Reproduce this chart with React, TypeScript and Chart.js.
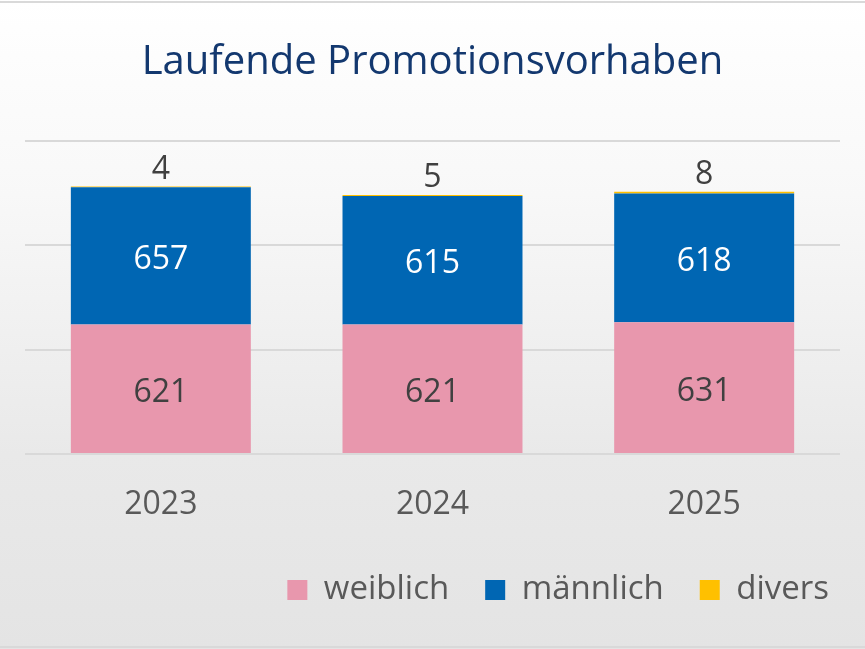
import React, { useEffect, useRef } from "react";
import { Chart, registerables } from "chart.js";

Chart.register(...registerables);

const categories = ["2023", "2024", "2025"];
const weiblich = [621, 621, 631];
const maennlich = [657, 615, 618];
const divers = [4, 5, 8];
const seriesNames = ["weiblich", "männlich", "divers"];
const yTicks = [0, 500, 1000, 1500];

const FONT = '"Open Sans", "Noto Sans", sans-serif';

const valueLabels = {
  id: "valueLabels",
  afterDatasetsDraw(chart: any) {
    const ctx = chart.ctx;
    ctx.save();
    ctx.font = `32px ${FONT}`;
    ctx.textAlign = "center";
    ctx.textBaseline = "middle";
    chart.data.datasets.forEach((ds: any, i: number) => {
      const meta = chart.getDatasetMeta(i);
      meta.data.forEach((bar: any, j: number) => {
        const v = ds.data[j];
        const p = bar.getProps(["x", "y", "base"], true);
        if (i === 2) {
          ctx.fillStyle = "#404040";
          ctx.fillText(String(v), p.x, p.y - 17);
        } else {
          ctx.fillStyle = i === 0 ? "#404040" : "#ffffff";
          ctx.fillText(String(v), p.x, (p.y + p.base) / 2 + 4);
        }
      });
    });
    ctx.restore();
  },
};

export default function App() {
  const ref = useRef<HTMLCanvasElement>(null);

  useEffect(() => {
    document.body.style.margin = "0";
    const chart = new Chart(ref.current!, {
      type: "bar",
      data: {
        labels: categories,
        datasets: [
          { label: seriesNames[0], data: weiblich, backgroundColor: "#E897AD", borderWidth: 0 },
          { label: seriesNames[1], data: maennlich, backgroundColor: "#0066B3", borderWidth: 0 },
          { label: seriesNames[2], data: divers, backgroundColor: "#FFC000", borderWidth: 0 },
        ],
      },
      options: {
        responsive: false,
        animation: false,
        layout: { padding: { top: 0, left: 0, right: 0, bottom: 32.5 } },
        datasets: { bar: { categoryPercentage: 1, barPercentage: 0.6625 } },
        scales: {
          x: {
            stacked: true,
            grid: { display: false },
            border: { display: false },
            ticks: { color: "#595959", font: { family: FONT, size: 32 }, padding: 24 },
            afterFit: (s: any) => { s.height = 83.5; },
          },
          y: {
            stacked: true,
            min: yTicks[0],
            max: yTicks[yTicks.length - 1],
            afterBuildTicks: (s: any) => { s.ticks = yTicks.map((v) => ({ value: v })); },
            grid: { color: "#d9d9d9", lineWidth: 2, drawTicks: false },
            border: { display: false },
            ticks: { display: false },
            afterFit: (s: any) => { s.width = 25; },
          },
          y2: {
            position: "right",
            display: true,
            grid: { display: false },
            border: { display: false },
            ticks: { display: false },
            afterFit: (s: any) => { s.width = 25; },
          },
        },
        plugins: {
          title: {
            display: true,
            text: "Laufende Promotionsvorhaben",
            color: "#13386F",
            font: { family: FONT, size: 40, weight: "normal" },
            padding: { top: 39, bottom: 54 },
          },
          legend: {
            position: "bottom",
            align: "end",
            labels: {
              boxWidth: 20,
              boxHeight: 20,
              padding: 36,
              color: "#595959",
              font: { family: FONT, size: 33 },
            },
          },
          tooltip: { enabled: false },
        },
      },
      plugins: [valueLabels],
    } as any);
    return () => chart.destroy();
  }, []);

  return (
    <div
      style={{
        position: "fixed",
        left: 0,
        top: 0,
        width: 865,
        height: 649,
        background: "linear-gradient(to bottom, #ffffff 0%, #f8f8f8 30%, #e9e9e9 70%, #e4e4e4 100%)",
        overflow: "hidden",
      }}
    >
      <div style={{ position: "absolute", left: 0, top: 1, width: 865, height: 2, background: "#d9d9d9" }} />
      <div style={{ position: "absolute", left: 0, top: 646, width: 865, height: 2, background: "#d9d9d9" }} />
      <canvas ref={ref} width={865} height={649} style={{ position: "absolute", left: 0, top: 0 }} />
    </div>
  );
}
